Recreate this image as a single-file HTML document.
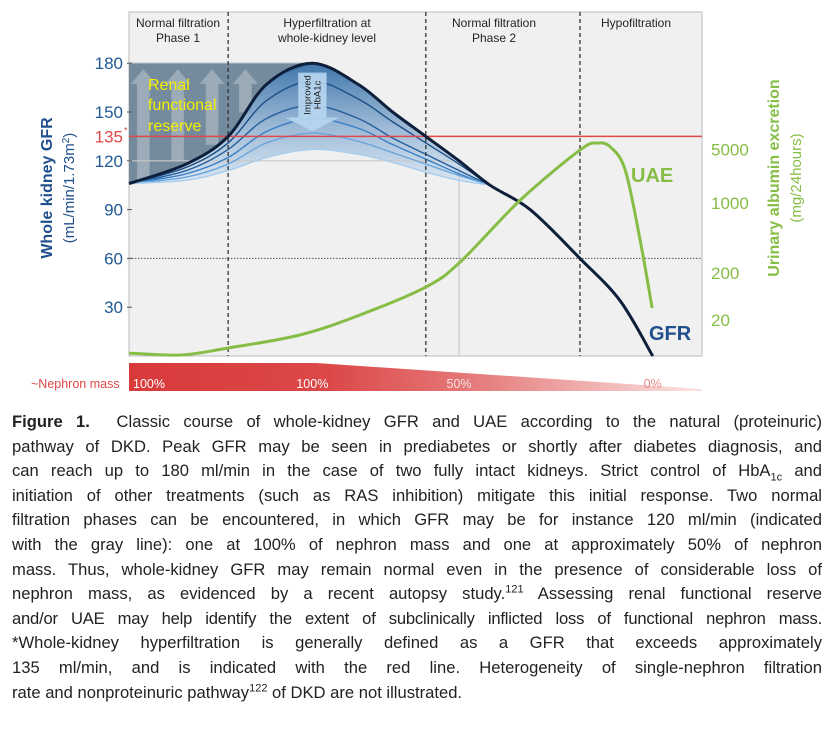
<!DOCTYPE html>
<html><head><meta charset="utf-8">
<style>
html,body{margin:0;padding:0;background:#fff;}
body{width:836px;height:738px;position:relative;overflow:hidden;font-family:"Liberation Sans",sans-serif;}
#chart{position:absolute;left:0;top:0;}
#caption{position:absolute;left:12px;top:410px;width:810px;font-size:16.6px;line-height:24.6px;color:#222;}
#caption div{text-align:justify;text-align-last:justify;white-space:nowrap;height:24.6px;}
#caption div.last{text-align-last:left;}
</style></head><body>
<svg id="chart" width="836" height="400" xmlns="http://www.w3.org/2000/svg">
<defs>
<linearGradient id="blueFill" x1="0" y1="0" x2="0" y2="1">
<stop offset="0" stop-color="#1f5f9e" stop-opacity="0.85"/>
<stop offset="1" stop-color="#cfe2f5" stop-opacity="0.6"/>
</linearGradient>
<linearGradient id="nephGrad" x1="0" y1="0" x2="1" y2="0">
<stop offset="0" stop-color="#d83a3a"/>
<stop offset="0.35" stop-color="#dc4848"/>
<stop offset="0.6" stop-color="#e57a7a"/>
<stop offset="1" stop-color="#fbe4e4"/>
</linearGradient>
</defs>
<rect x="129" y="12" width="573" height="344" fill="#f0f0f0" stroke="#bbb" stroke-width="1"/>
<g id="layer"></g>
</svg>
<div id="caption">
<div><b>Figure 1.</b>&nbsp; Classic course of whole-kidney GFR and UAE according to the natural (proteinuric)</div>
<div>pathway of DKD. Peak GFR may be seen in prediabetes or shortly after diabetes diagnosis, and</div>
<div>can reach up to 180 ml/min in the case of two fully intact kidneys. Strict control of HbA<sub style="font-size:11px;line-height:0">1c</sub> and</div>
<div>initiation of other treatments (such as RAS inhibition) mitigate this initial response. Two normal</div>
<div>filtration phases can be encountered, in which GFR may be for instance 120 ml/min (indicated</div>
<div>with the gray line): one at 100% of nephron mass and one at approximately 50% of nephron</div>
<div>mass. Thus, whole-kidney GFR may remain normal even in the presence of considerable loss of</div>
<div>nephron mass, as evidenced by a recent autopsy study.<sup style="font-size:11px;line-height:0">121</sup> Assessing renal functional reserve</div>
<div style="letter-spacing:-0.2px">and/or UAE may help identify the extent of subclinically inflicted loss of functional nephron mass.</div>
<div>*Whole-kidney hyperfiltration is generally defined as a GFR that exceeds approximately</div>
<div>135 ml/min, and is indicated with the red line. Heterogeneity of single-nephron filtration</div>
<div class="last">rate and nonproteinuric pathway<sup style="font-size:11px;line-height:0">122</sup> of DKD are not illustrated.</div>
</div>
<script>
// ---- data ----
const xs = [0,10,17.3,24,32,40,46,51.8,57.6,63,70,78.7,85.7,91.4];
const gfrMain = [106,118,135,167,180,167,150,135,120,105,90,60,34,0];
const hba1 = [106,116,131,157,169,158,144,131,118,105];
const hba2 = [106,114,127,146,154,146,134,124,114,105];
const hba3 = [106,112,122,138,146,140,130,121,112,105];
const hba4 = [106,110,118,131,137,132,125,118,111,105];
const hba5 = [106,108,114,122,127,124,119,113,108,105];
const uaeX = [0,9,17.3,29.8,40.3,51.8,57.8,68.3,78.7,81.7,84,86.6,89.2,91.3];
const uaeVals = [1.8,0.6,4.9,12.9,25.2,42.4,57.8,95.9,126.6,130.9,128.5,114.3,71.3,29.5];
const leftTicks = [30,60,90,120,150,180];
const rightTickLabels = ["20","200","1000","5000"];
const rightTickIdx = [22,51,94,127];
const phaseX = [17.3,51.8,78.7];
const nephLabels = ["100%","100%","50%","0%"];
const nephX = [0.7,32,57.6,91.4];

// ---- axes ----
const X0=129, W=573, Y0=356, PX=48.8/30;
const sx = v => X0 + v*W/100;
const sy = v => Y0 - v*PX;
const NS="http://www.w3.org/2000/svg";
const layer=document.getElementById('layer');
function mk(tag, attrs, parent){const e=document.createElementNS(NS,tag);for(const k in attrs)e.setAttribute(k,attrs[k]);(parent||layer).appendChild(e);return e;}
function smooth(xa, ya){
  const p=xa.slice(0,ya.length).map((x,i)=>[sx(x),sy(ya[i])]);
  let d=`M${p[0][0]},${p[0][1]}`;
  for(let i=0;i<p.length-1;i++){
    const a=p[Math.max(0,i-1)],b=p[i],c=p[i+1],e=p[Math.min(p.length-1,i+2)];
    const c1=[b[0]+(c[0]-a[0])/6,b[1]+(c[1]-a[1])/6], c2=[c[0]-(e[0]-b[0])/6,c[1]-(e[1]-b[1])/6];
    d+=` C${c1[0]},${c1[1]} ${c2[0]},${c2[1]} ${c[0]},${c[1]}`;
  }
  return d;
}
function revSmooth(xa,ya){const n=ya.length;return smooth(xa.slice(0,n).reverse(),ya.slice().reverse());}

// reserve region
const peakIdx=4;
let rp=mk('path',{d:smooth(xs.slice(0,peakIdx+1),gfrMain.slice(0,peakIdx+1))+` L${sx(0)},${sy(180)} Z`,fill:'#6d8498',opacity:'0.95'});


mk('line',{x1:sx(0),y1:sy(180),x2:sx(xs[peakIdx]),y2:sy(180),stroke:'#a8b4c0','stroke-width':1.2});
// up arrows
[[2.5,107,176],[8.5,120,176],[14.5,130,176],[20.3,150,176]].forEach((a,i)=>{
  const cx=sx(a[0]),yb=sy(a[1]),yt=sy(a[2]);
  const ar=mk('path',{d:`M${cx-6},${yb} L${cx-6},${yt+14} L${cx-12},${yt+14} L${cx},${yt} L${cx+12},${yt+14} L${cx+6},${yt+14} L${cx+6},${yb} Z`,fill:'#a8b8c2',opacity:'0.75',stroke:'#9fb0bd','stroke-width':0.8});
  
  
});
// blue fill between main and lowest variant
const n5=hba5.length;
let bf=mk('path',{d:smooth(xs.slice(0,n5),gfrMain.slice(0,n5))+' L'+revSmooth(xs,hba5).slice(1)+' Z',fill:'url(#blueFill)'});


// reference lines
let gl=mk('line',{x1:sx(0),y1:sy(120),x2:sx(57.6),y2:sy(120),stroke:'#c8c8c8','stroke-width':1.2});


let gv=mk('line',{x1:sx(57.6),y1:sy(120),x2:sx(57.6),y2:Y0,stroke:'#c8c8c8','stroke-width':1.2});


let l60=mk('line',{x1:X0,y1:sy(60),x2:X0+W,y2:sy(60),stroke:'#555','stroke-width':1,'stroke-dasharray':'1.5,1.5'});


// variant curves
const vcols=['#1c4f86','#275f9c','#3a7fc4','#6aa6dc','#a8cdee'];
[hba1,hba2,hba3,hba4,hba5].forEach((s,i)=>{
  const c=mk('path',{d:smooth(xs,s),fill:'none',stroke:vcols[i],'stroke-width':1.4});
  
  
});
// HbA1c arrow
{const cx=sx(32),yt=sy(174),yb=sy(138);
 const a=mk('path',{d:`M${cx-14},${yt} L${cx+14},${yt} L${cx+14},${yb-14} L${cx+27},${yb-14} L${cx},${yb} L${cx-27},${yb-14} L${cx-14},${yb-14} Z`,fill:'#b9d7f0',opacity:'0.9',stroke:'#9cc4e6','stroke-width':0.8});
 
 
 const t=mk('text',{x:0,y:0,transform:`translate(${cx},${yt+22}) rotate(-90)`,'font-size':9.5,'text-anchor':'middle',fill:'#222'});
 
 
 t.innerHTML=`<tspan x="0" dy="-2">Improved</tspan><tspan x="0" dy="10">HbA1c</tspan>`;
}
// red 135 line
let rl=mk('line',{x1:X0,y1:sy(135),x2:X0+W,y2:sy(135),stroke:'#e04848','stroke-width':1.5});


// phase dashed lines
phaseX.forEach(p=>{
  const l=mk('line',{x1:sx(p),y1:12,x2:sx(p),y2:Y0,stroke:'#333','stroke-width':1.3,'stroke-dasharray':'4,3'});
  
  
});
// main GFR
let mg=mk('path',{d:smooth(xs,gfrMain),fill:'none',stroke:'#0d1f3a','stroke-width':3});


// UAE
let ua=mk('path',{d:smooth(uaeX,uaeVals),fill:'none',stroke:'#86bd45','stroke-width':3});



// labels
function txt(x,y,s,attrs,name){const t=mk('text',Object.assign({x:x,y:y},attrs));t.textContent=s;return t;}
leftTicks.forEach(v=>{
  txt(123,sy(v)+6,String(v),{'font-size':17,'text-anchor':'end',fill:'#1f5a96'},'y-tick-label');
  const tk=mk('line',{x1:X0-2,y1:sy(v),x2:X0+3,y2:sy(v),stroke:'#555'});
  
  
});
const t135=txt(123,sy(135)+6,'135',{'font-size':17,'text-anchor':'end',fill:'#e04848'},'y-tick-135');
txt(124,sy(135)-3,'*',{'font-size':9,fill:'#e04848'},'asterisk');
rightTickLabels.forEach((s,i)=>txt(711,sy(rightTickIdx[i])+6,s,{'font-size':17,fill:'#86bd45'},'right-tick-label'));
txt(0,0,'Whole kidney GFR',{'font-size':16,'font-weight':'bold',fill:'#1f4f8c','text-anchor':'middle',transform:'translate(52,188) rotate(-90)'},'y-axis-title');
const ys=mk('text',{x:0,y:0,'font-size':15,fill:'#1f4f8c','text-anchor':'middle',transform:'translate(74,188) rotate(-90)'});


ys.innerHTML='(mL/min/1.73m<tspan dy="-5" font-size="10">2</tspan><tspan dy="5">)</tspan>';
txt(0,0,'Urinary albumin excretion',{'font-size':16,'font-weight':'bold',fill:'#86bd45','text-anchor':'middle',transform:'translate(779,178) rotate(-90)'},'right-axis-title');
txt(0,0,'(mg/24hours)',{'font-size':15,fill:'#86bd45','text-anchor':'middle',transform:'translate(801,178) rotate(-90)'},'right-axis-units');
txt(631,182,'UAE',{'font-size':20,'font-weight':'bold',fill:'#86bd45'},'uae-label');
txt(649,340,'GFR',{'font-size':20,'font-weight':'bold',fill:'#1f4f8c'},'gfr-label');
txt(148,90,'Renal',{'font-size':16,fill:'#f4f000'},'renal-reserve-label');
txt(148,110,'functional',{'font-size':16,fill:'#f4f000'},'renal-reserve-label');
txt(148,131,'reserve',{'font-size':16,fill:'#f4f000'},'renal-reserve-label');
const hdr=[[178,'Normal filtration','Phase 1'],[327,'Hyperfiltration at','whole-kidney level'],[494,'Normal filtration','Phase 2'],[636,'Hypofiltration','']];
hdr.forEach(h=>{txt(h[0],27,h[1],{'font-size':12,'text-anchor':'middle',fill:'#222'},'phase-header');if(h[2])txt(h[0],42,h[2],{'font-size':12,'text-anchor':'middle',fill:'#222'},'phase-header');});
// nephron band
let nb=mk('path',{d:`M129,363 L316,363 L702,389 L702,391 L129,391 Z`,fill:'url(#nephGrad)'});


txt(31,388,'~Nephron mass',{'font-size':12.5,fill:'#e04848'},'nephron-mass-label');
const nephCols=['#fff','#fff','#fbe0e0','#e88a8a'];
nephLabels.forEach((s,i)=>txt(sx(nephX[i]),388,s,{'font-size':12.5,fill:nephCols[i],'text-anchor':i==0?'start':'middle'},'nephron-percent-label'));
</script>
</body></html>
